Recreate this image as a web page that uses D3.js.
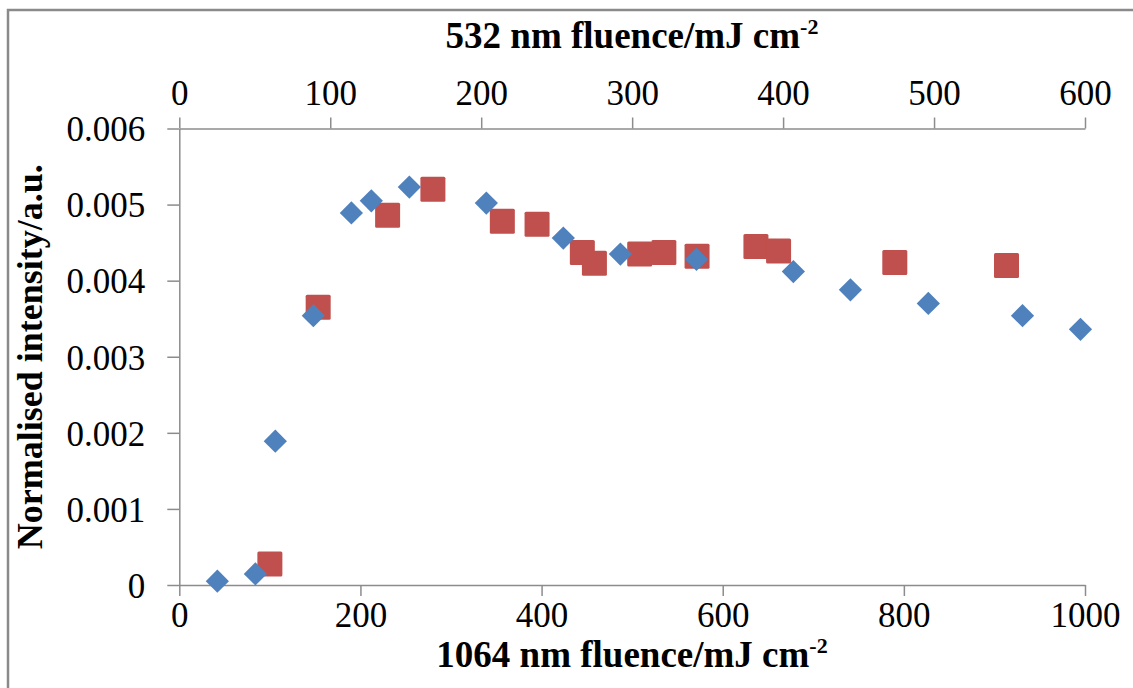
<!DOCTYPE html>
<html>
<head>
<meta charset="utf-8">
<script src="https://cdn.jsdelivr.net/npm/d3@7"></script>
<style>
  html, body { margin: 0; padding: 0; background: #fff; }
  svg { display: block; }
  svg text { font-family: "Liberation Serif", Tinos, "Times New Roman", "DejaVu Serif", serif !important; fill: #000; }
  .tick text { font-size: 35px; }
  .axis path, .axis line { stroke: #8c8c8c; stroke-width: 1.5; }
  .title { font-weight: bold; font-size: 37px; }
</style>
</head>
<body>
<svg id="chart"></svg>
<script>
// 1064 nm series (bottom axis) - blue diamonds
var fluence1064 = [42, 84, 106, 148, 190, 212, 254, 339, 424, 487, 571, 678, 741, 827, 931, 995];
var intensity1064 = [0.00005, 0.000145, 0.00189, 0.00354, 0.00489, 0.00505, 0.00523, 0.00502, 0.00456, 0.00435, 0.00428, 0.00412, 0.00388, 0.00370, 0.00354, 0.00336];

// 532 nm series (top axis) - red squares
var fluence532 = [60, 92, 138, 168, 214, 237, 267, 275, 305, 321, 343, 382, 397, 474, 548];
var intensity532 = [0.000276, 0.00365, 0.00486, 0.00520, 0.00478, 0.00474, 0.00437, 0.00423, 0.00435, 0.00437, 0.00432, 0.00445, 0.00439, 0.00424, 0.00420];

var bottomTicks = [0, 200, 400, 600, 800, 1000];
var topTicks = [0, 100, 200, 300, 400, 500, 600];
var yTicks = [0, 0.001, 0.002, 0.003, 0.004, 0.005, 0.006];

var width = 1133, height = 688;
var margin = { top: 128.5, right: 48, bottom: 103, left: 179.3 };
var serif = '"Liberation Serif", Tinos, "Times New Roman", "DejaVu Serif", serif';

var svg = d3.select('#chart')
  .attr('width', width)
  .attr('height', height);

// outer frame (right/bottom edges fall outside the picture)
svg.append('rect')
  .attr('x', 8)
  .attr('y', 10)
  .attr('width', width + 20)
  .attr('height', height + 20)
  .attr('fill', '#fff')
  .attr('stroke', '#8a8a8a')
  .attr('stroke-width', 2.5);

var x1 = d3.scaleLinear().domain([0, 1000]).range([margin.left, width - margin.right]);
var x2 = d3.scaleLinear().domain([0, 600]).range([margin.left, width - margin.right]);
var y = d3.scaleLinear().domain([0, 0.006]).range([height - margin.bottom, margin.top]);

var yFormat = function (d) { return d === 0 ? '0' : d.toFixed(3); };
var intFormat = function (d) { return String(d); };

// bottom axis
var gx = svg.append('g')
  .attr('class', 'axis')
  .attr('transform', 'translate(0,' + y(0) + ')')
  .call(d3.axisBottom(x1).tickValues(bottomTicks).tickFormat(intFormat).tickSize(11).tickSizeOuter(0));
gx.selectAll('.tick text').attr('y', 30).attr('dy', '0.35em');

// top axis
var gx2 = svg.append('g')
  .attr('class', 'axis')
  .attr('transform', 'translate(0,' + margin.top + ')')
  .call(d3.axisTop(x2).tickValues(topTicks).tickFormat(intFormat).tickSize(11).tickSizeOuter(0));
gx2.selectAll('.tick text').attr('y', -36).attr('dy', '0.35em');

// left axis
var gy = svg.append('g')
  .attr('class', 'axis')
  .attr('transform', 'translate(' + margin.left + ',0)')
  .call(d3.axisLeft(y).tickValues(yTicks).tickFormat(yFormat).tickSize(12).tickSizeOuter(0));
gy.selectAll('.tick text').attr('x', -34).attr('dy', '0.35em');

svg.selectAll('.axis').attr('font-family', serif);

// axis titles
svg.append('text')
  .attr('class', 'title')
  .attr('x', 632)
  .attr('y', 48)
  .attr('text-anchor', 'middle')
  .text('532 nm fluence/mJ cm')
  .append('tspan')
  .attr('font-size', 22)
  .attr('dy', -14)
  .text('-2');

svg.append('text')
  .attr('class', 'title')
  .attr('x', 632)
  .attr('y', 667)
  .attr('text-anchor', 'middle')
  .text('1064 nm fluence/mJ cm')
  .append('tspan')
  .attr('font-size', 22)
  .attr('dy', -14)
  .text('-2');

svg.append('text')
  .attr('class', 'title')
  .attr('font-size', 36)
  .attr('transform', 'translate(42,' + ((y(0) + y(0.006)) / 2) + ') rotate(-90)')
  .attr('text-anchor', 'middle')
  .style('font-size', '36px')
  .text('Normalised intensity/a.u.');

// 532 nm squares (drawn first, diamonds sit on top)
var data532 = fluence532.map(function (f, i) { return { x: f, y: intensity532[i] }; });
svg.append('g').selectAll('rect')
  .data(data532)
  .enter()
  .append('rect')
  .attr('x', function (d) { return x2(d.x) - 12.5; })
  .attr('y', function (d) { return y(d.y) - 12.5; })
  .attr('width', 25)
  .attr('height', 25)
  .attr('rx', 1.5)
  .attr('fill', '#c0504d');

// 1064 nm diamonds
var data1064 = fluence1064.map(function (f, i) { return { x: f, y: intensity1064[i] }; });
var diamond = d3.symbol().type(d3.symbolSquare).size(270);
svg.append('g').selectAll('path')
  .data(data1064)
  .enter()
  .append('path')
  .attr('d', diamond)
  .attr('transform', function (d) { return 'translate(' + x1(d.x) + ',' + y(d.y) + ') rotate(45)'; })
  .attr('fill', '#4f81bd');
</script>
</body>
</html>
